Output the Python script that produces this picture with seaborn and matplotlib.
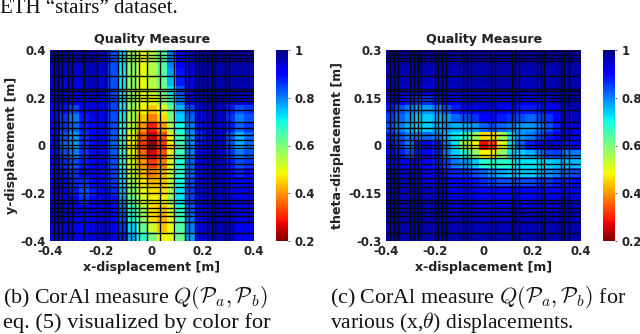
import matplotlib
matplotlib.use("Agg")
import matplotlib.pyplot as plt
import seaborn as sns
import pandas as pd

sns.set_theme(style="white")
plt.rcParams['font.family'] = ['DejaVu Sans']
plt.rcParams['mathtext.fontset'] = 'cm'

W, H = 640, 334

x_cols = [-.40,-.36,-.32,-.28,-.24,-.20,-.16,-.12,-.08,-.04,0,.04,.08,.12,.16,.20,.24,.28,.32,.36,.40]
y_rows_b = [.40,.36,.32,.28,.24,.20,.16,.12,.08,.04,0,-.04,-.08,-.12,-.16,-.20,-.24,-.28,-.32,-.36,-.40]
y_rows_c = [.30,.27,.24,.21,.18,.15,.12,.09,.06,.03,0,-.03,-.06,-.09,-.12,-.15,-.18,-.21,-.24,-.27,-.30]

quality_b = [
 [.96,.95,.95,.96,.96,.94,.84,.72,.58,.50,.55,.64,.80,.90,.94,.96,.97,.97,.97,.97,.97],
 [.96,.95,.95,.96,.96,.94,.84,.72,.58,.50,.55,.65,.80,.90,.94,.96,.97,.97,.97,.97,.97],
 [.95,.94,.94,.96,.96,.94,.84,.71,.58,.50,.55,.64,.78,.89,.93,.96,.97,.97,.97,.97,.97],
 [.95,.93,.93,.95,.96,.94,.84,.71,.58,.50,.55,.62,.76,.88,.93,.96,.97,.97,.97,.97,.97],
 [.94,.93,.92,.94,.95,.93,.84,.71,.58,.50,.53,.60,.72,.84,.92,.96,.97,.97,.97,.96,.96],
 [.93,.92,.90,.92,.94,.93,.85,.72,.58,.50,.50,.56,.68,.80,.90,.95,.97,.97,.96,.94,.94],
 [.92,.89,.85,.90,.94,.92,.85,.72,.56,.48,.44,.50,.63,.76,.85,.92,.96,.96,.88,.84,.86],
 [.92,.86,.80,.88,.93,.92,.84,.71,.55,.44,.38,.46,.60,.74,.82,.90,.95,.95,.86,.80,.84],
 [.92,.86,.82,.88,.92,.92,.84,.70,.54,.40,.30,.40,.56,.70,.80,.89,.94,.95,.88,.82,.86],
 [.90,.84,.78,.86,.92,.91,.83,.68,.50,.35,.25,.34,.50,.66,.78,.87,.93,.94,.84,.76,.82],
 [.90,.82,.78,.86,.92,.91,.82,.67,.48,.32,.21,.32,.48,.65,.79,.89,.94,.95,.84,.76,.82],
 [.90,.85,.80,.86,.92,.91,.83,.68,.50,.36,.26,.34,.50,.66,.80,.90,.95,.95,.86,.80,.84],
 [.92,.87,.84,.88,.92,.92,.84,.70,.52,.40,.32,.38,.52,.68,.82,.91,.95,.96,.88,.84,.86],
 [.93,.89,.86,.90,.92,.92,.85,.72,.54,.43,.38,.42,.54,.68,.82,.91,.95,.96,.90,.87,.90],
 [.93,.91,.87,.86,.90,.92,.86,.73,.57,.47,.43,.44,.54,.70,.84,.92,.95,.96,.92,.90,.92],
 [.94,.92,.88,.84,.88,.92,.87,.75,.60,.50,.46,.46,.56,.72,.85,.92,.95,.96,.93,.92,.94],
 [.94,.92,.90,.86,.90,.93,.89,.78,.63,.52,.48,.48,.58,.72,.85,.92,.95,.96,.94,.93,.94],
 [.95,.94,.92,.90,.93,.94,.91,.82,.67,.56,.46,.44,.52,.68,.83,.92,.95,.96,.95,.93,.94],
 [.95,.94,.92,.90,.93,.94,.91,.84,.69,.58,.46,.42,.50,.66,.81,.91,.95,.96,.95,.93,.94],
 [.94,.93,.92,.91,.94,.95,.92,.86,.73,.62,.52,.44,.50,.64,.80,.90,.95,.96,.96,.92,.93],
 [.93,.92,.92,.92,.94,.95,.93,.88,.77,.68,.60,.48,.50,.62,.78,.90,.95,.96,.96,.92,.93],
]

quality_c = [
 [.97,.97,.97,.97,.97,.97,.97,.97,.97,.97,.97,.97,.97,.97,.97,.97,.97,.97,.97,.97,.97],
 [.97,.97,.97,.97,.97,.97,.97,.97,.97,.97,.97,.97,.97,.97,.97,.97,.97,.97,.97,.97,.97],
 [.96,.96,.96,.96,.96,.96,.96,.96,.96,.97,.97,.97,.97,.97,.96,.96,.96,.96,.97,.97,.97],
 [.96,.96,.96,.96,.95,.95,.96,.96,.96,.97,.97,.97,.97,.97,.96,.96,.96,.96,.97,.97,.97],
 [.95,.95,.94,.94,.93,.94,.94,.95,.95,.96,.96,.96,.96,.96,.95,.95,.95,.96,.97,.97,.97],
 [.92,.90,.88,.86,.86,.88,.90,.92,.94,.95,.95,.95,.94,.94,.92,.92,.92,.93,.95,.96,.96],
 [.88,.84,.80,.78,.78,.80,.84,.88,.90,.92,.94,.94,.92,.90,.88,.88,.88,.90,.93,.95,.96],
 [.85,.82,.78,.74,.74,.76,.78,.82,.84,.86,.90,.90,.88,.86,.84,.82,.84,.86,.90,.94,.95],
 [.84,.80,.76,.74,.74,.76,.78,.76,.76,.78,.82,.84,.82,.80,.78,.78,.80,.84,.88,.92,.94],
 [.88,.84,.80,.80,.82,.80,.76,.72,.68,.58,.46,.46,.56,.72,.78,.80,.84,.88,.92,.94,.92],
 [.90,.86,.80,.88,.92,.88,.80,.72,.55,.50,.28,.33,.50,.72,.82,.88,.92,.95,.93,.88,.90],
 [.90,.88,.84,.88,.90,.88,.80,.74,.70,.58,.48,.48,.58,.72,.74,.76,.80,.85,.85,.80,.80],
 [.92,.90,.90,.90,.90,.88,.85,.80,.78,.74,.68,.68,.68,.70,.72,.72,.72,.74,.75,.75,.75],
 [.96,.94,.94,.94,.92,.90,.88,.87,.86,.84,.82,.78,.76,.74,.74,.74,.76,.78,.80,.82,.84],
 [.96,.96,.96,.94,.94,.93,.92,.91,.90,.89,.87,.85,.84,.84,.84,.84,.86,.86,.88,.88,.90],
 [.96,.96,.96,.96,.95,.94,.93,.92,.92,.92,.91,.90,.90,.90,.90,.90,.90,.90,.90,.90,.90],
 [.97,.96,.96,.96,.96,.95,.95,.94,.94,.93,.93,.92,.92,.92,.92,.92,.93,.94,.94,.94,.94],
 [.97,.97,.97,.96,.96,.96,.96,.95,.95,.95,.94,.94,.94,.95,.95,.95,.95,.95,.96,.96,.96],
 [.97,.97,.97,.97,.97,.96,.96,.96,.96,.96,.95,.95,.95,.96,.96,.96,.96,.96,.96,.96,.96],
 [.97,.97,.97,.97,.97,.97,.97,.96,.96,.96,.96,.96,.96,.96,.96,.96,.96,.96,.97,.97,.97],
 [.97,.97,.97,.97,.97,.97,.97,.97,.97,.97,.97,.97,.97,.97,.97,.97,.97,.97,.97,.97,.97],
]

grid_x_b = [-.384,-.369,-.353,-.329,-.314,-.267,-.216,-.183,-.168,-.133,-.118,-.101,-.084,-.068,-.052,-.018,
            .031,.086,.131,.146,.167,.183,.199,.217,.235,.248,.285,.301]
grid_x_c = [-.384,-.367,-.351,-.302,-.285,-.269,-.255,-.200,-.187,-.169,-.154,-.085,-.069,-.053,
            .030,.046,.117,.130,.147,.218,.235,.248,.317,.330,.349]
grid_y_b = [.395,.380,.366,.353,.290,.238,.227,.213,.199,.188,.150,.098,.073,.045,.024,.003,-.009,-.040,-.052,
            -.077,-.098,-.116,-.137,-.157,-.173,-.199,-.228,-.241,-.262,-.277,-.294,-.320,-.366]
grid_y_c = [.296,.285,.275,.265,.218,.179,.170,.160,.149,.141,.113,.074,.055,.034,.018,.002,-.007,-.030,-.039,
            -.058,-.074,-.087,-.103,-.118,-.130,-.149,-.171,-.181,-.197,-.208,-.221,-.240,-.275]

xticks = [-.4,-.2,0,.2,.4]
xticklabels = ['-0.4','-0.2','0','0.2','0.4']
yticks_b = [-.4,-.2,0,.2,.4]
yticklabels_b = ['-0.4','-0.2','0','0.2','0.4']
yticks_c = [-.3,-.15,0,.15,.3]
yticklabels_c = ['-0.3','-0.15','0','0.15','0.3']
cbar_ticks = [.2,.4,.6,.8,1]
cbar_labels = ['0.2','0.4','0.6','0.8','1']
title = 'Quality Measure'
xlabel = 'x-displacement [m]'
ylabel_b = 'y-displacement [m]'
ylabel_c = 'theta-displacement [m]'

fig = plt.figure(figsize=(W / 100, H / 100), dpi=100)

def box(x0, y0, x1, y1):
    return [x0 / W, 1 - y1 / H, (x1 - x0) / W, (y1 - y0) / H]

TICK = 8.4
LAB = 9.1
INK = '#222222'

def panel(pos, cpos, values, rows, glx, gly, yt, ytl, ylabel, ylim, xlab_y, ylab_x, title_x):
    ax = fig.add_axes(box(*pos))
    cax = fig.add_axes(box(*cpos))
    df = pd.DataFrame(values, index=rows, columns=x_cols)
    sns.heatmap(df, ax=ax, cbar_ax=cax, cmap='jet_r', vmin=.2, vmax=1,
                xticklabels=False, yticklabels=False)
    ax.set_axis_off()
    cax.set_yticks(cbar_ticks)
    cax.set_yticklabels(cbar_labels, fontsize=TICK, fontweight='bold', color=INK)
    cax.tick_params(axis='y', length=1.5, width=.5, pad=3, color=INK, right=True, direction='out')
    for s in cax.spines.values():
        s.set_visible(False)

    top = fig.add_axes(box(*pos), facecolor='none')
    top.set_xlim(-.4, .4)
    top.set_ylim(*ylim)
    top.vlines(glx, ylim[0], ylim[1], color='#050505', lw=1.0)
    top.hlines(gly, -.4, .4, color='#050505', lw=1.0)
    top.set_xticks(xticks)
    top.set_xticklabels(xticklabels, fontsize=TICK, fontweight='bold', color=INK)
    top.set_yticks(yt)
    top.set_yticklabels(ytl, fontsize=TICK, fontweight='bold', color=INK)
    top.tick_params(length=0, pad=3)
    for s in top.spines.values():
        s.set_visible(False)
    fig.text(title_x / W, 1 - 40 / H, title, fontsize=LAB, fontweight='bold', color=INK, ha='center', va='center')
    fig.text((pos[0] + pos[2]) / 2 / W, 1 - xlab_y / H, xlabel, fontsize=LAB, fontweight='bold', color=INK, ha='center', va='center')
    fig.text(ylab_x / W, 1 - (pos[1] + pos[3]) / 2 / H, ylabel, fontsize=LAB, fontweight='bold', color=INK,
             rotation=90, ha='center', va='center')

panel((50, 50, 254, 241), (276, 50, 288, 241), quality_b, y_rows_b, grid_x_b, grid_y_b,
      yticks_b, yticklabels_b, ylabel_b, (-.4, .4), 268, 12, 152.5)
panel((386, 50, 581, 241), (603, 50, 615, 241), quality_c, y_rows_c, grid_x_c, grid_y_c,
      yticks_c, yticklabels_c, ylabel_c, (-.3, .3), 268, 338, 484)

serif = ['Liberation Serif']
def cap(x, y, s, size=15.6):
    fig.text(x / W, 1 - y / H, s, fontsize=size, family=serif, color='#111111', ha='left', va='baseline')

cap(0, 13, 'ETH \u201cstairs\u201d dataset.', 15)
cap(3, 303, r'(b) CorAl measure $Q(\mathcal{P}_a,\mathcal{P}_b)$', 15.8)
cap(3, 328, 'eq. (5) visualized by color for', 16.2)
cap(330, 303, r'(c) CorAl measure $Q(\mathcal{P}_a,\mathcal{P}_b)$ for', 15.8)
cap(330, 328, r'various (x,$\theta$) displacements.', 15.6)

fig.savefig('out.png', dpi=100)
